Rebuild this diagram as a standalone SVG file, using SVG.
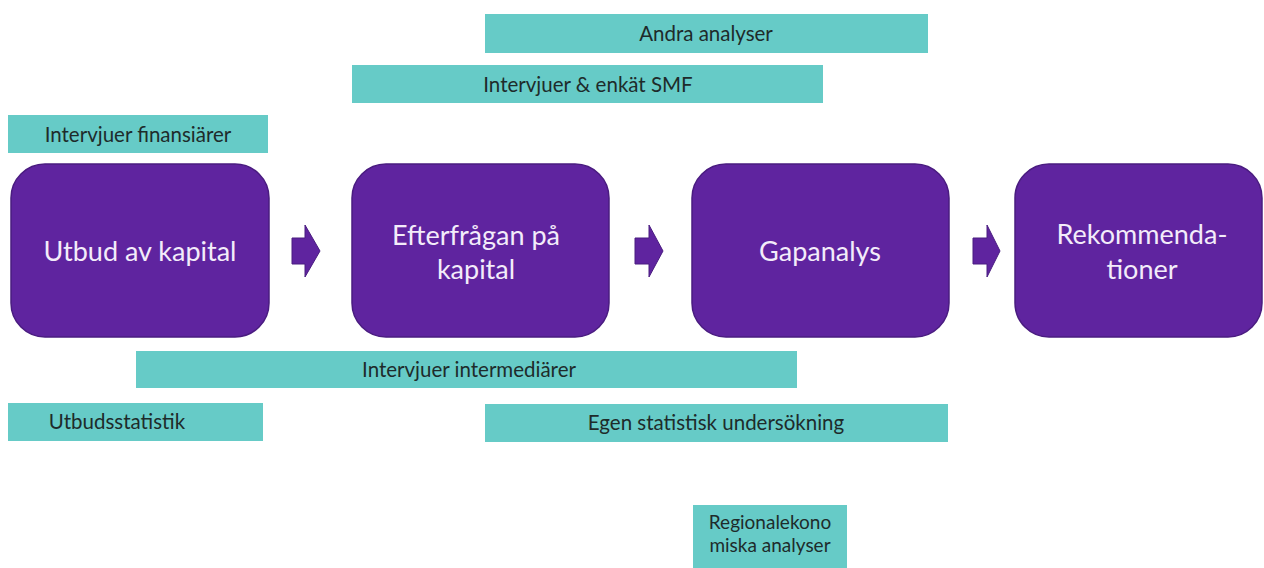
<svg xmlns="http://www.w3.org/2000/svg" width="1264" height="568" viewBox="0 0 1264 568">
<style>
.tb{fill:#66cbc7;}
.tt{font-family:Lato,"Open Sans",sans-serif;font-size:20.5px;fill:#1e2b2b;text-anchor:middle;}
.ts{font-size:19px;}
.pb{fill:#5f249f;stroke:#4a1c80;stroke-width:1.5;}
.pt{font-family:Lato,"Open Sans",sans-serif;font-size:27px;fill:#f3ecfa;text-anchor:middle;}
.ar{fill:#5f249f;stroke:#4a1c80;stroke-width:1;}
</style>
<rect width="1264" height="568" fill="#ffffff"/>
<g id="andra-analyser"><rect class="tb" x="485" y="14" width="443" height="39"/><text class="tt" x="706" y="41">Andra analyser</text></g>
<g id="intervjuer-enkat-smf"><rect class="tb" x="352" y="65" width="471" height="38"/><text class="tt" x="588" y="92">Intervjuer &amp; enkät SMF</text></g>
<g id="intervjuer-finansiarer"><rect class="tb" x="8" y="115" width="260" height="38"/><text class="tt" x="138" y="142">Intervjuer finansiärer</text></g>
<g id="utbud"><rect class="pb" x="11" y="164" width="258" height="173" rx="34"/><text class="pt" x="140" y="261">Utbud av kapital</text></g>
<g id="efterfragan"><rect class="pb" x="352" y="164" width="257" height="173" rx="34"/><text class="pt" x="476" y="245">Efterfrågan på</text><text class="pt" x="476" y="279">kapital</text></g>
<g id="gapanalys"><rect class="pb" x="692" y="164" width="257" height="173" rx="34"/><text class="pt" x="820" y="261">Gapanalys</text></g>
<g id="rekommendationer"><rect class="pb" x="1015" y="164" width="247" height="173" rx="34"/><text class="pt" x="1142" y="244">Rekommenda-</text><text class="pt" x="1142" y="279">tioner</text></g>
<g id="connectors">
<polygon class="ar" points="292,238 305,238 305,225 320,251 305,277 305,264 292,264"/>
<polygon class="ar" points="635,238 649,238 649,225 663,251 649,277 649,264 635,264"/>
<polygon class="ar" points="973,238 987,238 987,225 1000,251 987,277 987,264 973,264"/>
</g>
<g id="intervjuer-intermediarer"><rect class="tb" x="136" y="351" width="661" height="37"/><text class="tt" x="469" y="377">Intervjuer intermediärer</text></g>
<g id="utbudsstatistik"><rect class="tb" x="8" y="403" width="255" height="38"/><text class="tt" x="117" y="429">Utbudsstatistik</text></g>
<g id="egen-statistisk"><rect class="tb" x="485" y="404" width="463" height="38"/><text class="tt" x="716" y="430">Egen statistisk undersökning</text></g>
<g id="regionalekonomiska"><rect class="tb" x="693" y="505" width="154" height="63"/><text class="tt ts" x="770" y="529">Regionalekono</text><text class="tt ts" x="770" y="552">miska analyser</text></g>
</svg>
